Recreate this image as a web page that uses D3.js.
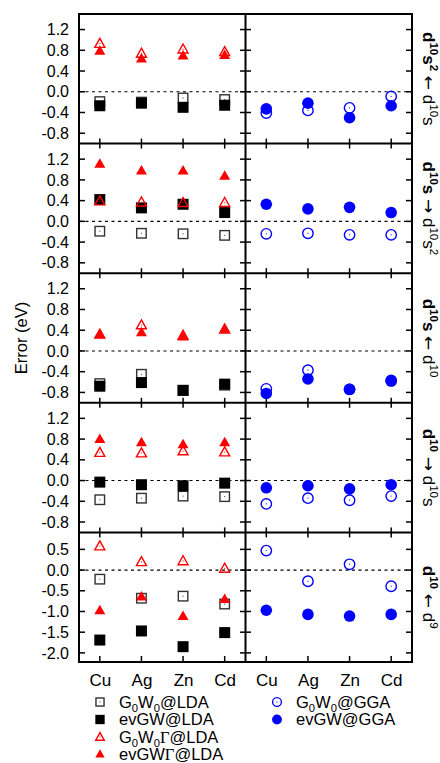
<!DOCTYPE html>
<html><head><meta charset="utf-8">
<script src="https://cdn.jsdelivr.net/npm/d3@7"></script>
<style>body{margin:0;background:#fff}svg{display:block}text{font-family:"Liberation Sans",Arial,sans-serif}</style>
</head><body>
<script>
// ---- data ----
const elements = ["Cu", "Ag", "Zn", "Cd"];
const transitionLabels = [
  [{t:"d",b:1},{t:"10",b:1,sup:1},{t:"s",b:1},{t:"2",b:1,sup:1},{t:" "},{t:"\u2190",arrow:1},{t:" d"},{t:"10",sup:1},{t:"s"}],
  [{t:"d",b:1},{t:"10",b:1,sup:1},{t:"s",b:1},{t:" "},{t:"\u2192",arrow:1},{t:" d"},{t:"10",sup:1},{t:"s"},{t:"2",sup:1}],
  [{t:"d",b:1},{t:"10",b:1,sup:1},{t:"s",b:1},{t:" "},{t:"\u2190",arrow:1},{t:" d"},{t:"10",sup:1}],
  [{t:"d",b:1},{t:"10",b:1,sup:1},{t:" "},{t:"\u2192",arrow:1},{t:" d"},{t:"10",sup:1},{t:"s"}],
  [{t:"d",b:1},{t:"10",b:1,sup:1},{t:" "},{t:"\u2190",arrow:1},{t:" d"},{t:"9",sup:1}]
];
const yDomains = [[-1.0, 1.5], [-1.0, 1.5], [-1.0, 1.5], [-1.0, 1.5], [-2.22, 0.91]];
const yTicks = [
  [-0.8, -0.4, 0.0, 0.4, 0.8, 1.2],
  [-0.8, -0.4, 0.0, 0.4, 0.8, 1.2],
  [-0.8, -0.4, 0.0, 0.4, 0.8, 1.2],
  [-0.8, -0.4, 0.0, 0.4, 0.8, 1.2],
  [-2.0, -1.5, -1.0, -0.5, 0.0, 0.5]
];
// LDA-based (left column), per panel: Cu, Ag, Zn, Cd
const g0w0LDA      = [[-0.19,-0.20,-0.12,-0.15],[-0.19,-0.23,-0.24,-0.27],[-0.63,-0.45,-0.76,-0.66],[-0.37,-0.34,-0.30,-0.31],[-0.22,-0.68,-0.63,-0.82]];
const evGWLDA      = [[-0.27,-0.22,-0.30,-0.26],[0.42,0.26,0.33,0.17],[-0.68,-0.61,-0.76,-0.64],[-0.03,-0.08,-0.10,-0.05],[-1.69,-1.47,-1.85,-1.51]];
const g0w0GammaLDA = [[0.93,0.74,0.82,0.77],[0.39,0.37,0.36,0.36],[0.32,0.50,0.30,0.42],[0.54,0.53,0.57,0.55],[0.58,0.20,0.22,0.04]];
const evGWGammaLDA = [[0.79,0.64,0.70,0.71],[1.11,0.98,0.98,0.88],[0.32,0.36,0.28,0.43],[0.80,0.74,0.70,0.74],[-0.97,-0.64,-1.11,-0.70]];
// GGA-based (right column)
const g0w0GGA      = [[-0.41,-0.36,-0.31,-0.09],[-0.24,-0.23,-0.26,-0.26],[-0.73,-0.37,-0.74,-0.57],[-0.45,-0.34,-0.38,-0.30],[0.47,-0.27,0.14,-0.39]];
const evGWGGA      = [[-0.33,-0.22,-0.50,-0.27],[0.33,0.24,0.27,0.17],[-0.82,-0.54,-0.74,-0.58],[-0.14,-0.10,-0.16,-0.08],[-0.97,-1.07,-1.11,-1.07]];

const seriesDefs = [
  {name:[{t:"G"},{t:"0",sub:1},{t:"W"},{t:"0",sub:1},{t:"@LDA"}], data:g0w0LDA, col:0, shape:"square", open:true, color:"#333"},
  {name:[{t:"evGW@LDA"}], data:evGWLDA, col:0, shape:"square", open:false, color:"#000"},
  {name:[{t:"G"},{t:"0",sub:1},{t:"W"},{t:"0",sub:1},{t:"\u0393",serif:1},{t:"@LDA"}], data:g0w0GammaLDA, col:0, shape:"triangle", open:true, color:"#ff0000"},
  {name:[{t:"evGW"},{t:"\u0393",serif:1},{t:"@LDA"}], data:evGWGammaLDA, col:0, shape:"triangle", open:false, color:"#ff0000"},
  {name:[{t:"G"},{t:"0",sub:1},{t:"W"},{t:"0",sub:1},{t:"@GGA"}], data:g0w0GGA, col:1, shape:"circle", open:true, color:"#0000ff"},
  {name:[{t:"evGW@GGA"}], data:evGWGGA, col:1, shape:"circle", open:false, color:"#0000ff"}
];

// ---- layout ----
const W = 440, H = 763;
const xL = 79, xM = 245.5, xR = 412;
const top0 = 14, bottom = 662, nP = 5;
const pH = (bottom - top0) / nP;

const svg = d3.select("body").append("svg").attr("width", W).attr("height", H);

function richText(sel, segs, size) {
  let state = 0; // 0 normal, 1 sup, -1 sub
  segs.forEach(s => {
    const want = s.sup ? 1 : (s.sub ? -1 : 0);
    const small = size * 0.68;
    const off = (v) => v === 1 ? -size*0.42 : (v === -1 ? size*0.25 : 0);
    const dy = off(want) - off(state);
    state = want;
    const ts = sel.append("tspan").text(s.t)
      .attr("dy", dy)
      .attr("font-size", want !== 0 ? small : size);
    if (s.b) ts.attr("font-weight", "bold");
    if (s.serif) ts.attr("font-family", "'Liberation Serif','DejaVu Serif',serif");
    if (s.arrow) ts.attr("font-family", "'DejaVu Sans',sans-serif");
  });
}

const xScaleL = d3.scalePoint().domain(elements).range([xL, xM]).padding(0.5);
const xScaleR = d3.scalePoint().domain(elements).range([xM, xR]).padding(0.5);
const xScales = [xScaleL, xScaleR];

function marker(g, shape, open, color, cx, cy, sz) {
  const s = sz || 1;
  let el;
  if (shape === "square") {
    const a = (open ? 9.5 : 11) * s;
    el = g.append("rect").attr("x", cx - a/2).attr("y", cy - a/2).attr("width", a).attr("height", a);
  } else if (shape === "triangle") {
    const w = (open ? 10 : 11) * s, h = (open ? 9 : 9.5) * s;
    el = g.append("path").attr("d", `M${cx},${cy - h*0.58}L${cx + w/2},${cy + h*0.42}L${cx - w/2},${cy + h*0.42}Z`);
  } else {
    const r = (open ? 5.2 : 5.8) * s;
    el = g.append("circle").attr("cx", cx).attr("cy", cy).attr("r", r);
  }
  if (open) {
    el.attr("fill", "none").attr("stroke", color).attr("stroke-width", 1.4);
    g.append("rect").attr("x", cx - 0.5).attr("y", cy - 0.5).attr("width", 1).attr("height", 1).attr("fill", color);
  } else {
    el.attr("fill", color);
  }
}

for (let p = 0; p < nP; p++) {
  const t = top0 + p * pH, b = t + pH;
  const y = d3.scaleLinear().domain(yDomains[p]).range([b, t]);
  const g = svg.append("g");

  // zero dashed line
  g.append("line").attr("x1", xL).attr("x2", xR).attr("y1", y(0)).attr("y2", y(0))
    .attr("stroke", "#000").attr("stroke-width", 1.1).attr("stroke-dasharray", "3,3.5");

  // y ticks & labels
  const ax = g.append("g").attr("transform", `translate(${xL},0)`)
    .call(d3.axisLeft(y).tickValues(yTicks[p]).tickFormat(d3.format(".1f")).tickSize(0).tickPadding(10));
  ax.select(".domain").remove();
  ax.selectAll("text").attr("font-size", 16).attr("font-family", "'Liberation Sans',Arial,sans-serif").attr("fill", "#000")
    .text(d => d3.format(".1f")(d).replace("\u2212", "-"));
  yTicks[p].forEach(v => {
    const yy = y(v);
    g.append("line").attr("x1", xL).attr("x2", xL + 6).attr("y1", yy).attr("y2", yy).attr("stroke", "#000").attr("stroke-width", 1.5);
    g.append("line").attr("x1", xM - 5.5).attr("x2", xM + 5.5).attr("y1", yy).attr("y2", yy).attr("stroke", "#000").attr("stroke-width", 1.5);
    g.append("line").attr("x1", xR - 6).attr("x2", xR).attr("y1", yy).attr("y2", yy).attr("stroke", "#000").attr("stroke-width", 1.5);
  });

  // x ticks
  xScales.forEach(xs => {
    elements.forEach(e => {
      const xx = xs(e);
      if (p < nP - 1) {
        g.append("line").attr("x1", xx).attr("x2", xx).attr("y1", b - 5).attr("y2", b + 5).attr("stroke", "#000").attr("stroke-width", 1.5);
      } else {
        g.append("line").attr("x1", xx).attr("x2", xx).attr("y1", b - 6).attr("y2", b).attr("stroke", "#000").attr("stroke-width", 1.5);
      }
    });
  });

  // markers
  seriesDefs.forEach(sd => {
    const xs = xScales[sd.col];
    sd.data[p].forEach((v, i) => {
      marker(g, sd.shape, sd.open, sd.color, xs(elements[i]), y(v));
    });
  });

  // right label
  const lab = g.append("text").attr("transform", `translate(423,${(t + b) / 2}) rotate(90)`)
    .attr("text-anchor", "middle").attr("fill", "#000");
  richText(lab, transitionLabels[p], 17);
}

// frames
const frame = svg.append("g").attr("fill", "none").attr("stroke", "#000").attr("stroke-width", 2);
frame.append("rect").attr("x", xL).attr("y", top0).attr("width", xR - xL).attr("height", bottom - top0);
frame.append("line").attr("x1", xM).attr("x2", xM).attr("y1", top0).attr("y2", bottom);
for (let p = 1; p < nP; p++) {
  frame.append("line").attr("x1", xL).attr("x2", xR).attr("y1", top0 + p * pH).attr("y2", top0 + p * pH);
}

// x axis labels
xScales.forEach(xs => {
  const ax = svg.append("g").attr("transform", `translate(0,${bottom})`)
    .call(d3.axisBottom(xs).tickSize(0).tickPadding(12));
  ax.select(".domain").remove();
  ax.selectAll("text").attr("font-size", 17).attr("font-family", "'Liberation Sans',Arial,sans-serif").attr("fill", "#000");
});

// y axis title
svg.append("text").attr("transform", `translate(27,${(top0 + bottom) / 2}) rotate(-90)`)
  .attr("text-anchor", "middle").attr("font-size", 16.5).text("Error (eV)");

// legend
const legPos = [[100, 702], [100, 719.5], [100, 737], [100, 754], [277, 702], [277, 719.5]];
seriesDefs.forEach((sd, i) => {
  const [lx, ly] = legPos[i];
  const lg = svg.append("g");
  marker(lg, sd.shape, sd.open, sd.color, lx, ly, 0.85);
  const tx = lg.append("text").attr("x", lx + 19).attr("y", ly + 5.5).attr("fill", "#000");
  richText(tx, sd.name, 16.5);
});
</script>
</body></html>
